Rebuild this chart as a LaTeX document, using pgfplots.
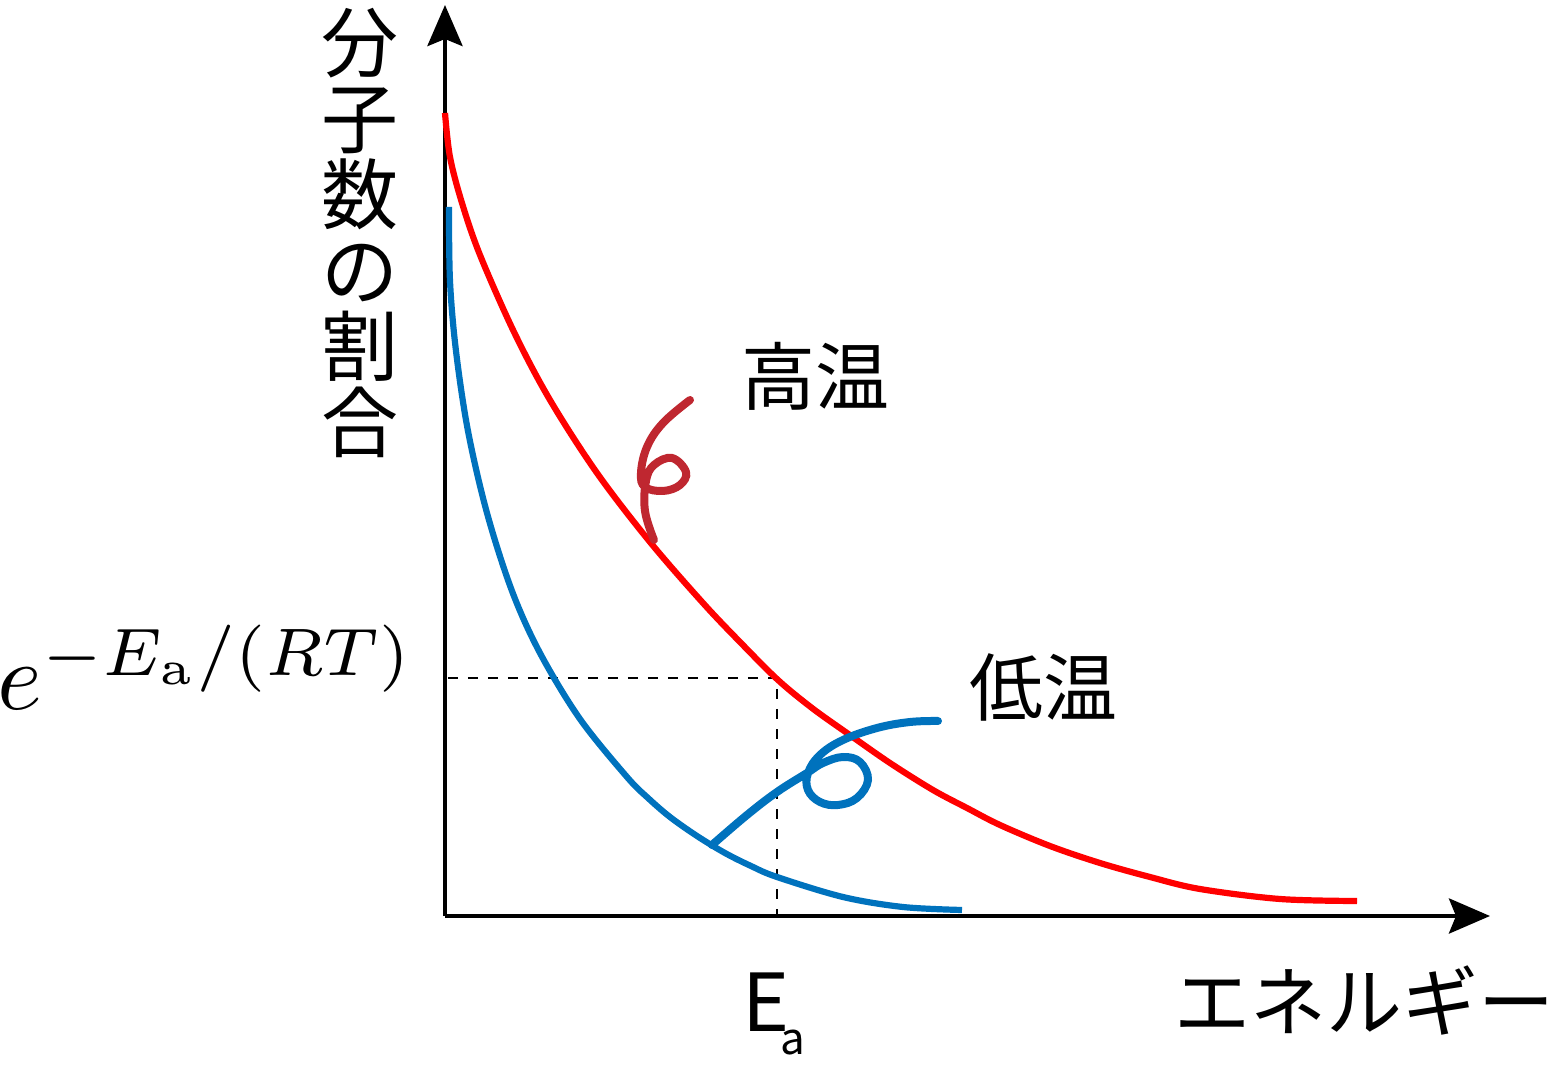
\documentclass[border=0pt]{standalone}
\usepackage[no-math]{fontspec}
\usepackage{pgfplots}
\pgfplotsset{compat=1.18}
\usetikzlibrary{arrows.meta}
\setmainfont{Noto Sans CJK JP}
\newcommand{\ja}[1]{\fontsize{#1}{#1}\selectfont}
\definecolor{lowblue}{RGB}{0,114,189}
\definecolor{highred}{RGB}{191,39,48}
\begin{document}
\begin{tikzpicture}[x=1pt,y=1pt]
\begin{axis}[
  scale only axis, width=1045pt, height=911pt,
  xmin=445, xmax=1490, ymin=165, ymax=1076,
  axis x line=bottom, axis y line=left,
  axis line style={line width=4.5pt,black,-{Stealth[length=41pt,width=35pt,inset=7pt]}},
  xtick=\empty, ytick=\empty, clip=false,
]
\path (axis cs:0,0) rectangle (axis cs:1557,1081);
% dashed guide
\addplot[black,line width=2pt,dash pattern=on 10pt off 10pt] coordinates {(448,403) (777,403) (777,165)};
% high temperature
\addplot[red,line width=6.2pt,smooth,tension=0.55] coordinates {
(445,968) (450,924) (462,878) (480,826) (514,749) (550,681) (597,608) (650,539) (703,478) (740,439) (778,401) (812,373) (847,348) (890,318) (933,291) (967,273) (1000,256) (1050,235) (1100,218) (1150,204) (1200,192) (1280,182) (1357,180)};
% low temperature
\addplot[lowblue,line width=6.2pt,smooth,tension=0.55] coordinates {
(449,874) (450,800) (456,730) (468,650) (487,568) (512,490) (540,428) (580,362) (627,304) (648,283) (670,264) (697,245) (725,228) (751,215) (777,204) (843,184) (903,174) (962,171)};
% pointers
\addplot[highred,line width=8pt,smooth,tension=0.65,line cap=round] coordinates {
(690,681) (663,658) (647,634) (641,608) (645,594) (663,590) (680,596) (686,609) (672,623) (654,616) (646,600) (645,570) (654,541)};
\addplot[lowblue,line width=8pt,smooth,tension=0.65,line cap=round] coordinates {
(938,360) (910,359) (877,353) (843,341) (820,326) (808,308) (808,291) (820,279) (838,276) (857,283) (868,301) (860,319) (843,324) (823,318) (807,308) (777,289) (747,266) (712,236)};
% labels
\node[align=center,inner sep=0pt,anchor=north,font=\fontsize{77}{76}\selectfont] at (axis cs:360,1073) {\lineskiplimit=-100pt 分\\子\\数\\の\\割\\合};
\node[inner sep=0pt] at (axis cs:816,705) {\ja{74}高温};
\node[inner sep=0pt] at (axis cs:1043,394) {\ja{74}低温};
\node[inner sep=0pt] at (axis cs:1364,80) {\ja{76}エネルギー};
\node[inner sep=0pt,anchor=base west] at (axis cs:742,50) {\ja{80}E\hspace{-9pt}\raisebox{-23pt}{\ja{44}a}};
\node[inner sep=0pt,scale=9.6,anchor=base west,overlay] at (axis cs:-4,371) {$e^{-E_{\mathrm{a}}/(RT)}$};
\end{axis}
\end{tikzpicture}
\end{document}
